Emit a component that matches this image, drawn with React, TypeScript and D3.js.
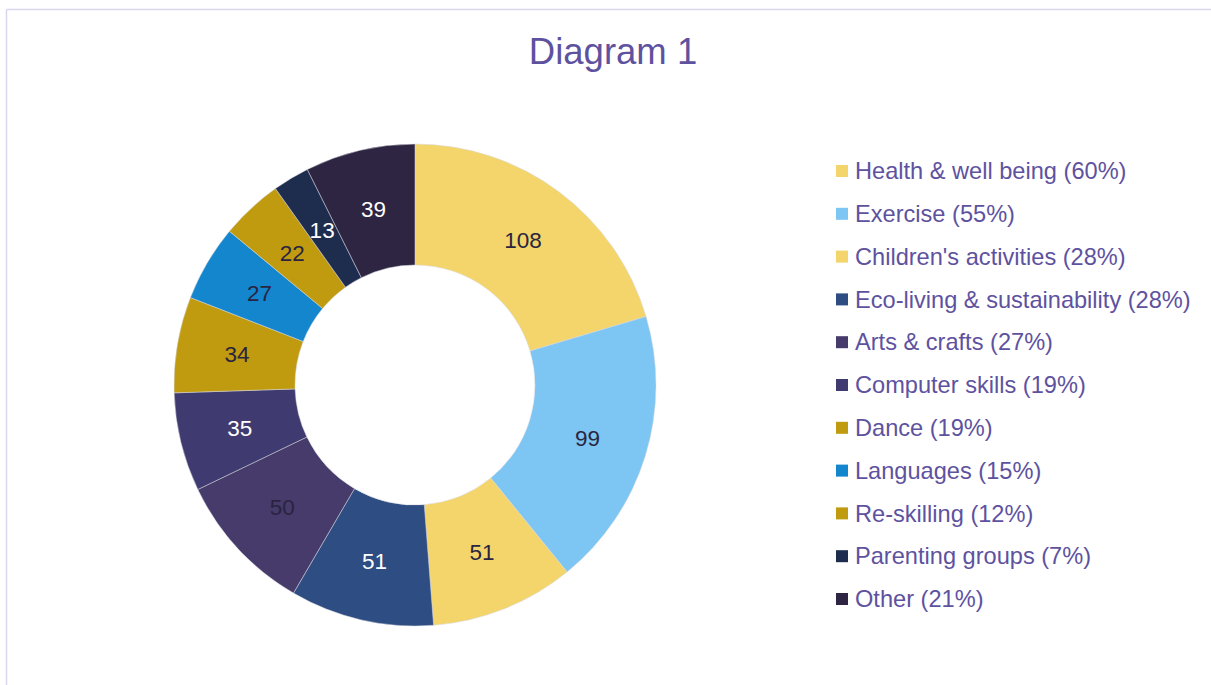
import React, { useEffect, useRef } from "react";
import * as d3 from "d3";

// slice data, clockwise from 12 o'clock
const categories = [
  "Health & well being",
  "Exercise",
  "Children's activities",
  "Eco-living & sustainability",
  "Arts & crafts",
  "Computer skills",
  "Dance",
  "Languages",
  "Re-skilling",
  "Parenting groups",
  "Other",
];
const counts = [108, 99, 51, 51, 50, 35, 34, 27, 22, 13, 39];
const percents = [60, 55, 28, 28, 27, 19, 19, 15, 12, 7, 21];
const colors = [
  "#F3D56B", "#7DC5F2", "#F3D56B", "#2E4D82", "#463B6B", "#3F3B70",
  "#C09B10", "#1386CE", "#C09B10", "#1E2C4E", "#2D2541",
];
const labelColors = [
  "#2a2440", "#2a2440", "#2a2440", "#ffffff", "#2a2440", "#ffffff",
  "#2a2440", "#2a2440", "#2a2440", "#ffffff", "#ffffff",
];

const W = 1211;
const H = 685;
const textColor = "#5E52A0";
const font = "Liberation Sans, Arial, sans-serif";

export default function App() {
  const ref = useRef<SVGSVGElement>(null);

  useEffect(() => {
    const svg = d3.select(ref.current);
    svg.selectAll("*").remove();

    // frame
    svg.append("line").attr("x1", 6.5).attr("y1", 9.5).attr("x2", W).attr("y2", 9.5)
      .attr("stroke", "#D9D6EE").attr("stroke-width", 1.5);
    svg.append("line").attr("x1", 6.5).attr("y1", 9.5).attr("x2", 6.5).attr("y2", H)
      .attr("stroke", "#D9D6EE").attr("stroke-width", 1.5);

    svg.append("text")
      .attr("x", 613).attr("y", 64)
      .attr("text-anchor", "middle")
      .style("font-family", font)
      .style("font-size", "36.5px")
      .attr("fill", textColor)
      .text("Diagram 1");

    const cx = 415, cy = 385, outerR = 241, innerR = 120;
    const data = counts.map((v, i) => ({ v, i }));
    const pie = d3.pie<{ v: number; i: number }>().value((d) => d.v).sort(null);
    const arc = d3.arc<d3.PieArcDatum<{ v: number; i: number }>>()
      .innerRadius(innerR).outerRadius(outerR);
    const labelArc = d3.arc<d3.PieArcDatum<{ v: number; i: number }>>()
      .innerRadius((innerR + outerR) / 2).outerRadius((innerR + outerR) / 2);

    const g = svg.append("g").attr("transform", `translate(${cx},${cy})`);
    const arcs = pie(data);
    g.selectAll("path").data(arcs).enter().append("path")
      .attr("d", arc)
      .attr("fill", (d) => colors[d.data.i])
      .attr("stroke", "#d8d8e0")
      .attr("stroke-width", 0.5);

    g.selectAll("text.lbl").data(arcs).enter().append("text")
      .attr("class", "lbl")
      .attr("transform", (d) => `translate(${labelArc.centroid(d)})`)
      .attr("text-anchor", "middle")
      .attr("dy", "0.35em")
      .style("font-family", font)
      .style("font-size", "22.5px")
      .attr("fill", (d) => labelColors[d.data.i])
      .text((d) => d.data.v);

    // legend
    const legendY = d3.scalePoint<number>()
      .domain(d3.range(categories.length))
      .range([171, 599]);
    const leg = svg.append("g");
    const rows = leg.selectAll("g").data(categories).enter().append("g")
      .attr("transform", (_, i) => `translate(836,${legendY(i)})`);
    rows.append("rect")
      .attr("x", 0).attr("y", -6).attr("width", 12).attr("height", 12)
      .attr("fill", (_, i) => colors[i]);
    rows.append("text")
      .attr("x", 19).attr("dy", "0.35em")
      .style("font-family", font)
      .style("font-size", "23.6px")
      .attr("fill", textColor)
      .text((d, i) => `${d} (${percents[i]}%)`);
  }, []);

  return (
    <svg ref={ref} width={W} height={H}
      style={{ position: "absolute", left: 0, top: 0, background: "#fff" }} />
  );
}
